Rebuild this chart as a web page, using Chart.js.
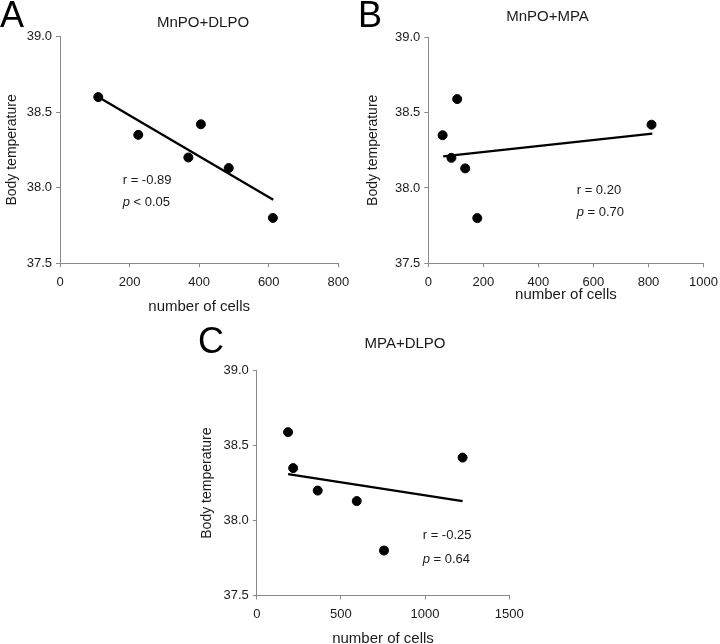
<!DOCTYPE html>
<html>
<head>
<meta charset="utf-8">
<script src="https://cdn.jsdelivr.net/npm/chart.js@4.4.1/dist/chart.umd.min.js"></script>
<style>
  html, body { margin: 0; padding: 0; background: #fff; overflow: hidden; width: 720px; height: 644px; }
  canvas { position: absolute; }
</style>
</head>
<body>
<canvas id="panelA" width="360" height="320" style="left:0;top:0"></canvas>
<canvas id="panelB" width="375" height="320" style="left:350px;top:0"></canvas>
<canvas id="panelC" width="360" height="330" style="left:180px;top:320px"></canvas>
<script>
// same six animals in every panel
const cellsA = [110, 225, 369, 405, 485, 612];
const tempA = [38.60, 38.35, 38.20, 38.42, 38.13, 37.80];
const fitCellsA = [110, 613];
const fitTempA = [38.60, 37.92];

const cellsB = [52, 84, 105, 134, 178, 811];
const tempB = [38.35, 38.20, 38.59, 38.13, 37.80, 38.42];
const fitCellsB = [54, 814];
const fitTempB = [38.21, 38.36];

const cellsC = [186, 216, 362, 594, 756, 1223];
const tempC = [38.59, 38.35, 38.20, 38.13, 37.80, 38.42];
const fitCellsC = [186, 1223];
const fitTempC = [38.31, 38.13];

const tempTicks = [37.5, 38.0, 38.5, 39.0];
const cellTicksA = [0, 200, 400, 600, 800];
const cellTicksB = [0, 200, 400, 600, 800, 1000];
const cellTicksC = [0, 500, 1000, 1500];

const FONT = '"Liberation Sans", Arial, Helvetica, sans-serif';
const TEXT = '#1a1a1a';
const AXIS = '#8a8a8a';

const toPoints = (xs, ys) => xs.map((x, i) => ({ x: x, y: ys[i] }));

// letter, panel title and the r / p lines
const panelText = {
  id: 'panelText',
  afterDraw(chart, args, opts) {
    const ctx = chart.ctx;
    ctx.save();
    ctx.fillStyle = '#000';
    ctx.textBaseline = 'alphabetic';
    ctx.textAlign = 'left';
    ctx.font = '36px ' + FONT;
    ctx.fillText(opts.letter, opts.letterX, opts.letterY);

    ctx.fillStyle = TEXT;
    ctx.font = '15px ' + FONT;
    ctx.textAlign = 'center';
    ctx.fillText(opts.title, opts.titleX, opts.titleY);

    ctx.textAlign = 'left';
    ctx.textBaseline = 'middle';
    opts.stats.forEach((line, i) => {
      let x = opts.statX;
      const y = opts.statY + i * opts.statGap;
      if (line.italic) {
        ctx.font = 'italic 13px ' + FONT;
        ctx.fillText(line.italic, x, y);
        x += ctx.measureText(line.italic).width;
      }
      ctx.font = '13px ' + FONT;
      ctx.fillText(line.text, x, y);
    });
    ctx.restore();
  }
};

const makePanel = (id, p) => {
  const canvas = document.getElementById(id);
  new Chart(canvas.getContext('2d'), {
    type: 'scatter',
    data: {
      datasets: [
        {
          data: toPoints(p.cells, p.temp),
          backgroundColor: '#000',
          borderColor: '#000',
          pointRadius: 4.5,
          pointHoverRadius: 4.5
        },
        {
          data: toPoints(p.fitCells, p.fitTemp),
          showLine: true,
          borderColor: '#000',
          borderWidth: 2.3,
          pointRadius: 0,
          fill: false
        }
      ]
    },
    options: {
      responsive: false,
      animation: false,
      events: [],
      layout: { padding: { left: 0, top: p.top, right: canvas.width - p.right, bottom: 0 } },
      plugins: {
        legend: { display: false },
        tooltip: { enabled: false },
        panelText: p.text
      },
      scales: {
        x: {
          type: 'linear',
          min: p.cellTicks[0],
          max: p.cellTicks[p.cellTicks.length - 1],
          afterBuildTicks: (scale) => { scale.ticks = p.cellTicks.map(v => ({ value: v })); },
          afterFit: (scale) => { scale.height = canvas.height - p.bottom; },
          grid: { drawOnChartArea: false, drawTicks: true, tickLength: 4, color: AXIS },
          border: { display: true, color: AXIS, width: 1 },
          ticks: {
            color: TEXT,
            font: { family: FONT, size: 13 },
            padding: 7,
            maxRotation: 0,
            callback: (v) => String(v)
          },
          title: {
            display: true,
            text: 'number of cells',
            color: TEXT,
            font: { family: FONT, size: 15 },
            padding: { top: 0, bottom: p.xTitlePad }
          }
        },
        y: {
          type: 'linear',
          min: 37.5,
          max: 39.0,
          afterBuildTicks: (scale) => { scale.ticks = tempTicks.map(v => ({ value: v })); },
          afterFit: (scale) => { scale.width = p.left; },
          grid: { drawOnChartArea: false, drawTicks: true, tickLength: 4, color: AXIS },
          border: { display: true, color: AXIS, width: 1 },
          ticks: {
            color: TEXT,
            font: { family: FONT, size: 13 },
            padding: 4,
            callback: (v) => Number(v).toFixed(1)
          },
          title: {
            display: true,
            text: 'Body temperature',
            color: TEXT,
            font: { family: FONT, size: 14 },
            padding: { top: p.yTitlePad, bottom: 0 }
          }
        }
      }
    },
    plugins: [panelText]
  });
};

makePanel('panelA', {
  cells: cellsA, temp: tempA, fitCells: fitCellsA, fitTemp: fitTempA, cellTicks: cellTicksA,
  left: 60, right: 338.3, top: 36.7, bottom: 263.2, xTitlePad: 4, yTitlePad: 3.6,
  text: {
    letter: 'A', letterX: 0, letterY: 27, title: 'MnPO+DLPO', titleX: 203, titleY: 27,
    statX: 122.7, statY: 180.7, statGap: 22,
    stats: [{ italic: '', text: 'r = -0.89' }, { italic: 'p', text: ' < 0.05' }]
  }
});

makePanel('panelB', {
  cells: cellsB, temp: tempB, fitCells: fitCellsB, fitTemp: fitTempB, cellTicks: cellTicksB,
  left: 78.3, right: 356.7, top: 37.3, bottom: 263.3, xTitlePad: 16, yTitlePad: 14.6,
  text: {
    letter: 'B', letterX: 8, letterY: 26.5, title: 'MnPO+MPA', titleX: 197.5, titleY: 21,
    statX: 226.7, statY: 190, statGap: 22,
    stats: [{ italic: '', text: 'r = 0.20' }, { italic: 'p', text: ' = 0.70' }]
  }
});

makePanel('panelC', {
  cells: cellsC, temp: tempC, fitCells: fitCellsC, fitTemp: fitTempC, cellTicks: cellTicksC,
  left: 76.8, right: 329.2, top: 50.7, bottom: 275.5, xTitlePad: 1.7, yTitlePad: 18.3,
  text: {
    letter: 'C', letterX: 18, letterY: 33, title: 'MPA+DLPO', titleX: 225, titleY: 28,
    statX: 242.7, statY: 215, statGap: 24,
    stats: [{ italic: '', text: 'r = -0.25' }, { italic: 'p', text: ' = 0.64' }]
  }
});
</script>
</body>
</html>
